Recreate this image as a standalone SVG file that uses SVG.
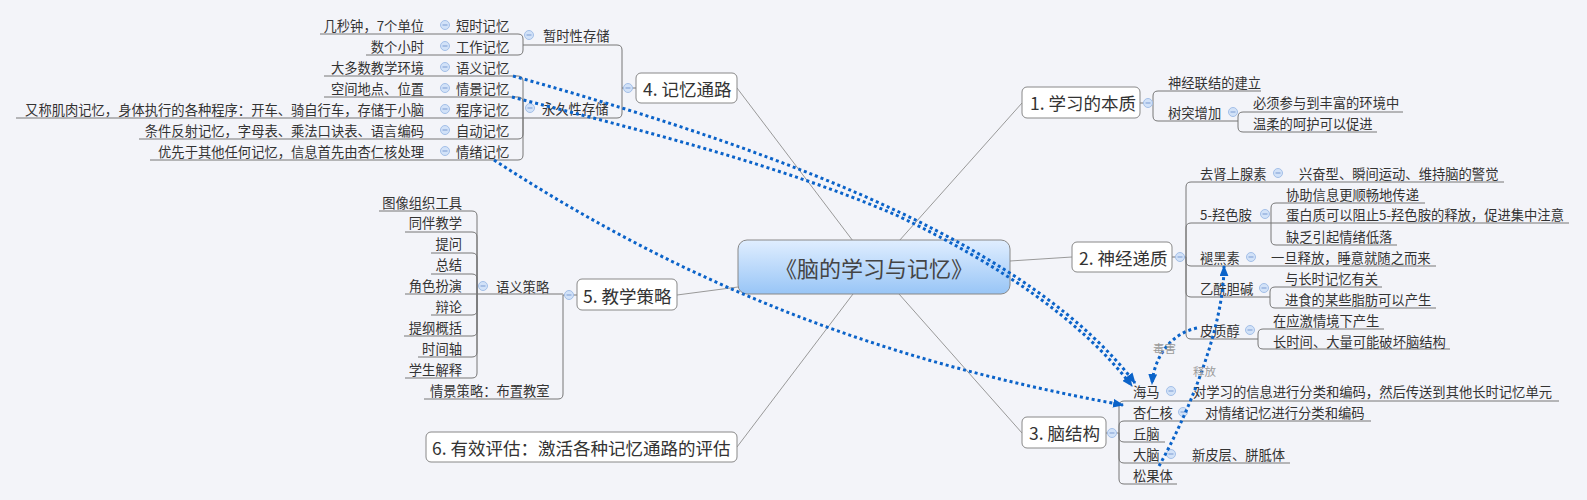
<svg xmlns="http://www.w3.org/2000/svg" xmlns:xlink="http://www.w3.org/1999/xlink" width="1587" height="500" viewBox="0 0 1587 500">
<style>
.t{font-family:"Noto Sans CJK SC","Noto Sans",sans-serif;font-size:13.3px;fill:#333;dominant-baseline:central}
.e{text-anchor:end}
.tp{font-size:17.5px;fill:#333}
.ct{font-size:22px;text-anchor:middle;fill:#444}
.lb{font-size:11.5px;fill:#9a9a9a}
.box{fill:#fff;stroke:#888;stroke-width:1}
.br{fill:none;stroke:#777;stroke-width:1}
.mn{fill:none;stroke:#999;stroke-width:1}
.rel{fill:none;stroke:#0b63c9;stroke-width:3;stroke-dasharray:3 3;marker-end:url(#arr)}
</style>
<defs>
<linearGradient id="cg" x1="0" y1="0" x2="0" y2="1">
<stop offset="0" stop-color="#e0eeff"/>
<stop offset="1" stop-color="#98c5f6"/>
</linearGradient>
<marker id="arr" viewBox="0 0 10 8" refX="9" refY="4" markerWidth="11" markerHeight="9" markerUnits="userSpaceOnUse" orient="auto">
<path d="M0,0 L10,4 L0,8 z" fill="#0b63c9"/>
</marker>
<g id="col"><circle r="4.5" fill="#d2e2f8" stroke="#a3bfe8" stroke-width="1"/><line x1="-2.5" y1="0" x2="2.5" y2="0" stroke="#7b9bd2" stroke-width="1"/></g>
</defs>
<rect width="1587" height="500" fill="#f3f4f9"/>

<g id="connectors">
<path class="mn" d="M737,88 L853,241"/>
<path class="mn" d="M1022,103 L899,241"/>
<path class="mn" d="M1010,261 L1072,257"/>
<path class="mn" d="M899,294 L1022,433"/>
<path class="mn" d="M677,295 L738,287"/>
<path class="mn" d="M853,294 L737,447"/>
<path class="br" d="M636,88 H622"/>
<path class="br" d="M622,88 V50 Q622,45 617,45 H523"/>
<path class="br" d="M622,88 V113 Q622,118 617,118 H523"/>
<path class="br" d="M523,45 V39 Q523,34 518,34 H320"/>
<path class="br" d="M523,45 V50 Q523,55 518,55 H366"/>
<path class="br" d="M523,118 V81 Q523,76 518,76 H324"/>
<path class="br" d="M523,118 V102 Q523,97 518,97 H324"/>
<path class="br" d="M523,118 H16"/>
<path class="br" d="M523,118 V134 Q523,139 518,139 H139"/>
<path class="br" d="M523,118 V155 Q523,160 518,160 H150"/>
<path class="br" d="M577,295 H563"/>
<path class="br" d="M563,294 H405"/>
<path class="br" d="M563,295 V394 Q563,399 558,399 H424"/>
<path class="br" d="M477,294 V216 Q477,211 472,211 H379"/>
<path class="br" d="M477,294 V237 Q477,232 472,232 H405"/>
<path class="br" d="M477,294 V258 Q477,253 472,253 H431"/>
<path class="br" d="M477,294 V279 Q477,274 472,274 H431"/>
<path class="br" d="M477,294 V310 Q477,315 472,315 H431"/>
<path class="br" d="M477,294 V331 Q477,336 472,336 H404"/>
<path class="br" d="M477,294 V352 Q477,357 472,357 H418"/>
<path class="br" d="M477,294 V373 Q477,378 472,378 H405"/>
<path class="br" d="M1140,103 H1153"/>
<path class="br" d="M1153,103 V96 Q1153,91 1158,91 H1261"/>
<path class="br" d="M1153,103 V116 Q1153,121 1158,121 H1238"/>
<path class="br" d="M1238,121 V117 Q1238,112 1243,112 H1403"/>
<path class="br" d="M1238,121 V127 Q1238,132 1243,132 H1377"/>
<path class="br" d="M1172,257 H1186"/>
<path class="br" d="M1186,257 V187 Q1186,182 1191,182 H1504"/>
<path class="br" d="M1186,257 V228 Q1186,223 1191,223 H1569"/>
<path class="br" d="M1186,257 V261 Q1186,266 1191,266 H1436"/>
<path class="br" d="M1186,257 V292 Q1186,297 1191,297 H1270"/>
<path class="br" d="M1186,257 V334 Q1186,339 1191,339 H1258"/>
<path class="br" d="M1271,223 V208 Q1271,203 1276,203 H1425"/>
<path class="br" d="M1271,223 V240 Q1271,245 1276,245 H1397"/>
<path class="br" d="M1270,297 V292 Q1270,287 1275,287 H1382"/>
<path class="br" d="M1270,297 V303 Q1270,308 1275,308 H1436"/>
<path class="br" d="M1258,339 V334 Q1258,329 1263,329 H1384"/>
<path class="br" d="M1258,339 V344 Q1258,349 1263,349 H1450"/>
<path class="br" d="M1106,433 H1119"/>
<path class="br" d="M1119,433 V406 Q1119,401 1124,401 H1559"/>
<path class="br" d="M1119,433 V426 Q1119,421 1124,421 H1371"/>
<path class="br" d="M1119,433 V437 Q1119,442 1124,442 H1165"/>
<path class="br" d="M1119,433 V458 Q1119,463 1124,463 H1290"/>
<path class="br" d="M1119,433 V479 Q1119,484 1124,484 H1177"/>
</g>

<g id="n-center">
<rect x="738" y="240" width="272" height="54" rx="9" fill="url(#cg)" stroke="#888"/>
<text class="t ct" x="874" y="267">《脑的学习与记忆》</text>
</g>

<g id="n4"><rect class="box" x="636" y="73" width="101" height="30" rx="5"/><text class="t tp" x="643" y="88">4. 记忆通路</text><use xlink:href="#col" x="628" y="88"/></g>
<g id="n4-1"><text class="t" x="543" y="35">暂时性存储</text><use xlink:href="#col" x="529" y="35"/></g>
<g id="n4-2"><text class="t" x="542" y="108">永久性存储</text><use xlink:href="#col" x="530" y="108"/></g>
<g id="n4-1-1"><text class="t" x="456" y="25">短时记忆</text><use xlink:href="#col" x="445" y="25"/><text class="t e" x="424" y="25">几秒钟，7个单位</text></g>
<g id="n4-1-2"><text class="t" x="456" y="46">工作记忆</text><use xlink:href="#col" x="445" y="46"/><text class="t e" x="424" y="46">数个小时</text></g>
<g id="n4-2-1"><text class="t" x="456" y="67">语义记忆</text><use xlink:href="#col" x="445" y="67"/><text class="t e" x="424" y="67">大多数教学环境</text></g>
<g id="n4-2-2"><text class="t" x="456" y="88">情景记忆</text><use xlink:href="#col" x="445" y="88"/><text class="t e" x="424" y="88">空间地点、位置</text></g>
<g id="n4-2-3"><text class="t" x="456" y="109">程序记忆</text><use xlink:href="#col" x="445" y="109"/><text class="t e" x="424" y="109">又称肌肉记忆，身体执行的各种程序：开车、骑自行车，存储于小脑</text></g>
<g id="n4-2-4"><text class="t" x="456" y="130">自动记忆</text><use xlink:href="#col" x="445" y="130"/><text class="t e" x="424" y="130">条件反射记忆，字母表、乘法口诀表、语言编码</text></g>
<g id="n4-2-5"><text class="t" x="456" y="151">情绪记忆</text><use xlink:href="#col" x="445" y="151"/><text class="t e" x="424" y="151">优先于其他任何记忆，信息首先由杏仁核处理</text></g>

<g id="n5"><rect class="box" x="577" y="279" width="100" height="31" rx="5"/><text class="t tp" x="583" y="295">5. 教学策略</text><use xlink:href="#col" x="569" y="295"/></g>
<g id="n5-1"><text class="t" x="496" y="286">语义策略</text><use xlink:href="#col" x="483" y="286"/></g>
<g id="n5-1-x">
<text class="t e" x="462" y="202">图像组织工具</text>
<text class="t e" x="462" y="222">同伴教学</text>
<text class="t e" x="462" y="243">提问</text>
<text class="t e" x="462" y="264">总结</text>
<text class="t e" x="462" y="285">角色扮演</text>
<text class="t e" x="462" y="306">辩论</text>
<text class="t e" x="462" y="327">提纲概括</text>
<text class="t e" x="462" y="348">时间轴</text>
<text class="t e" x="462" y="369">学生解释</text>
</g>
<g id="n5-2"><text class="t" x="430" y="390">情景策略：布置教室</text></g>

<g id="n6"><rect class="box" x="426" y="432" width="311" height="30" rx="5"/><text class="t tp" x="432" y="447">6. 有效评估：激活各种记忆通路的评估</text></g>

<g id="n1"><rect class="box" x="1022" y="87" width="118" height="31" rx="5"/><text class="t tp" x="1030" y="102">1. 学习的本质</text><use xlink:href="#col" x="1148" y="103"/></g>
<g id="n1-1"><text class="t" x="1168" y="82">神经联结的建立</text></g>
<g id="n1-2"><text class="t" x="1168" y="112">树突增加</text><use xlink:href="#col" x="1233" y="112"/>
<text class="t" x="1253" y="102">必须参与到丰富的环境中</text>
<text class="t" x="1253" y="123">温柔的呵护可以促进</text></g>

<g id="n2"><rect class="box" x="1072" y="242" width="100" height="30" rx="5"/><text class="t tp" x="1079" y="257">2. 神经递质</text><use xlink:href="#col" x="1180" y="257"/></g>
<g id="n2-1"><text class="t" x="1200" y="173">去肾上腺素</text><use xlink:href="#col" x="1278" y="173"/><text class="t" x="1299" y="173">兴奋型、瞬间运动、维持脑的警觉</text></g>
<g id="n2-2"><text class="t" x="1200" y="214">5-羟色胺</text><use xlink:href="#col" x="1265" y="214"/>
<text class="t" x="1286" y="194">协助信息更顺畅地传递</text>
<text class="t" x="1286" y="214">蛋白质可以阻止5-羟色胺的释放，促进集中注意</text>
<text class="t" x="1286" y="236">缺乏引起情绪低落</text></g>
<g id="n2-3"><text class="t" x="1200" y="257">褪黑素</text><use xlink:href="#col" x="1251" y="257"/><text class="t" x="1271" y="257">一旦释放，睡意就随之而来</text></g>
<g id="n2-4"><text class="t" x="1200" y="288">乙酰胆碱</text><use xlink:href="#col" x="1264" y="288"/>
<text class="t" x="1285" y="278">与长时记忆有关</text>
<text class="t" x="1285" y="299">进食的某些脂肪可以产生</text></g>
<g id="n2-5"><text class="t" x="1200" y="330">皮质醇</text><use xlink:href="#col" x="1250" y="330"/>
<text class="t" x="1273" y="320">在应激情境下产生</text>
<text class="t" x="1273" y="341">长时间、大量可能破坏脑结构</text></g>

<g id="n3"><rect class="box" x="1022" y="417" width="84" height="31" rx="5"/><text class="t tp" x="1029" y="432">3. 脑结构</text><use xlink:href="#col" x="1112" y="433"/></g>
<g id="n3-1"><text class="t" x="1133" y="391">海马</text><use xlink:href="#col" x="1171" y="391"/><text class="t" x="1193" y="391">对学习的信息进行分类和编码，然后传送到其他长时记忆单元</text></g>
<g id="n3-2"><text class="t" x="1133" y="412">杏仁核</text><use xlink:href="#col" x="1183" y="412"/><text class="t" x="1205" y="412">对情绪记忆进行分类和编码</text></g>
<g id="n3-3"><text class="t" x="1133" y="433">丘脑</text></g>
<g id="n3-4"><text class="t" x="1133" y="454">大脑</text><use xlink:href="#col" x="1171" y="454"/><text class="t" x="1192" y="454">新皮层、胼胝体</text></g>
<g id="n3-5"><text class="t" x="1133" y="475">松果体</text></g>

<g id="relations">
<path class="rel" d="M513,76 C663,118 793,162 899,212 C1004,262 1085,318 1135,383"/>
<path class="rel" d="M512,97 C640,130 780,165 896,215 C1001,265 1082,321 1132,386"/>
<path class="rel" d="M494,160 C698,293 896,364 1123,405"/>
<path class="rel" d="M1197,328 C1172,333 1154,356 1152,384"/>
<path class="rel" d="M1159,466 C1185,420 1224,330 1224,266"/>
<text class="t lb" x="1153" y="348">毒害</text>
<text class="t lb" x="1193" y="371">释放</text>
</g>
</svg>
